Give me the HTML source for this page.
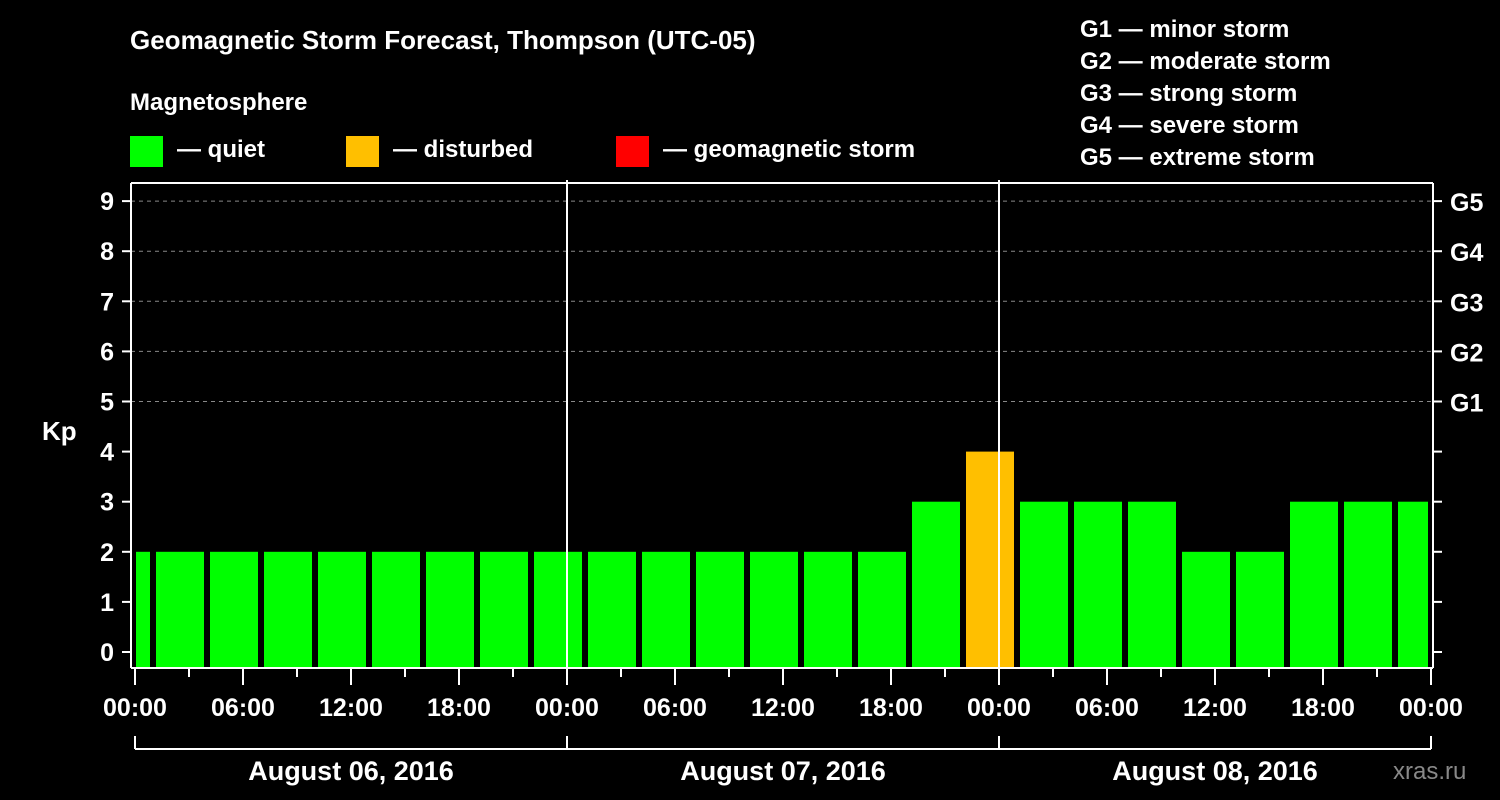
<!DOCTYPE html>
<html><head><meta charset="utf-8"><style>
body{margin:0;background:#000;}
svg{display:block;font-family:"Liberation Sans",Arial,sans-serif;font-weight:bold;}
</style></head><body>
<svg id="chart" width="1500" height="800" viewBox="0 0 1500 800">
<rect width="1500" height="800" fill="#000"/>
<text x="130" y="49" fill="#fff" font-size="26">Geomagnetic Storm Forecast, Thompson (UTC-05)</text>
<text x="130" y="110" fill="#fff" font-size="24">Magnetosphere</text>
<g><rect x="130" y="136" width="33" height="31" fill="#00ff00"/><text x="177" y="157" fill="#fff" font-size="24">— quiet</text></g>
<g><rect x="346" y="136" width="33" height="31" fill="#ffbf00"/><text x="393" y="157" fill="#fff" font-size="24">— disturbed</text></g>
<g><rect x="616" y="136" width="33" height="31" fill="#ff0000"/><text x="663" y="157" fill="#fff" font-size="24">— geomagnetic storm</text></g>
<g fill="#fff" font-size="24">
<text x="1080" y="37">G1 — minor storm</text>
<text x="1080" y="69">G2 — moderate storm</text>
<text x="1080" y="101">G3 — strong storm</text>
<text x="1080" y="133">G4 — severe storm</text>
<text x="1080" y="165">G5 — extreme storm</text>
</g>
<text x="42" y="440" fill="#fff" font-size="26">Kp</text>
<text x="1393" y="779" fill="#888" font-size="24" font-weight="normal">xras.ru</text>
<g id="grid"></g><g id="bars"></g><g id="axes"></g>
</svg>
<script>
const kpValues = [2, 2,2,2,2,2,2,2,2,2,2,2,2,2,2,3,4,3,3,3,2,2,3,3,3];
const yTicks = [0,1,2,3,4,5,6,7,8,9];
const gLabels = ["G1","G2","G3","G4","G5"];
const timeLabels = ["00:00","06:00","12:00","18:00"];
const dayLabels = ["August 06, 2016","August 07, 2016","August 08, 2016"];

const NS="http://www.w3.org/2000/svg";
const L=131,R=1433,T=183,B=668,X0=135,DAY=432;
const y=v=>652-v*50.1;
const xh=h=>X0+h*DAY/24;
function mk(tag,attrs,parent,text){const e=document.createElementNS(NS,tag);for(const k in attrs)e.setAttribute(k,attrs[k]);if(text!==undefined)e.textContent=text;parent.appendChild(e);return e;}
const grid=document.getElementById('grid'),bars=document.getElementById('bars'),axes=document.getElementById('axes');
// gridlines
for(let v=5;v<=9;v++){const g=mk('line',{x1:L,x2:R,y1:y(v),y2:y(v),stroke:'#888','stroke-dasharray':'4,4','stroke-width':1},grid);

}
// bars: intervals start at local 01:00 minus 3h
kpValues.forEach((v,i)=>{
 let x1=xh(-2+3*i)+3,x2=xh(1+3*i)-3;
 x1=Math.max(x1,X0+1);x2=Math.min(x2,R-5);
 const col=v>=5?'#ff0000':(v>=4?'#ffbf00':'#00ff00');
 const r=mk('rect',{x:x1,y:y(v),width:x2-x1,height:B-y(v),fill:col},bars);
 
 
});
// frame
mk('line',{x1:L,x2:L,y1:T,y2:B,stroke:'#fff','stroke-width':2},axes);
mk('line',{x1:L,x2:R,y1:B,y2:B,stroke:'#fff','stroke-width':2},axes);
mk('line',{x1:L,x2:R,y1:T,y2:T,stroke:'#fff','stroke-width':2},axes);
mk('line',{x1:R,x2:R,y1:T,y2:B,stroke:'#fff','stroke-width':2},axes);
for(let d=1;d<3;d++)mk('line',{x1:X0+d*DAY,x2:X0+d*DAY,y1:180,y2:B,stroke:'#fff','stroke-width':2},axes);
yTicks.forEach(v=>{
 mk('line',{x1:122,x2:L,y1:y(v),y2:y(v),stroke:'#fff','stroke-width':2},axes);
 mk('line',{x1:R,x2:1442,y1:y(v),y2:y(v),stroke:'#fff','stroke-width':2},axes);
 const t=mk('text',{x:114,y:y(v)+9,fill:'#fff','font-size':25,'text-anchor':'end'},axes,String(v));
 
 
});
gLabels.forEach((g,i)=>{const t=mk('text',{x:1450,y:y(5+i)+10,fill:'#fff','font-size':25},axes,g);
 
 });
for(let h=0;h<=72;h+=3){
 const major=h%6===0;
 mk('line',{x1:xh(h),x2:xh(h),y1:B,y2:major?685:677,stroke:'#fff','stroke-width':2},axes);
 if(major){const t=mk('text',{x:xh(h),y:716,fill:'#fff','font-size':25,'text-anchor':'middle'},axes,h===72?timeLabels[0]:timeLabels[(h%24)/6]);
 
 }
}
mk('line',{x1:X0,x2:X0+3*DAY,y1:749,y2:749,stroke:'#fff','stroke-width':2},axes);
for(let d=0;d<=3;d++)mk('line',{x1:X0+d*DAY,x2:X0+d*DAY,y1:736,y2:749,stroke:'#fff','stroke-width':2},axes);
dayLabels.forEach((s,d)=>{const t=mk('text',{x:X0+d*DAY+DAY/2,y:780,fill:'#fff','font-size':27,'text-anchor':'middle'},axes,s);
 
 });
</script>
</body></html>
